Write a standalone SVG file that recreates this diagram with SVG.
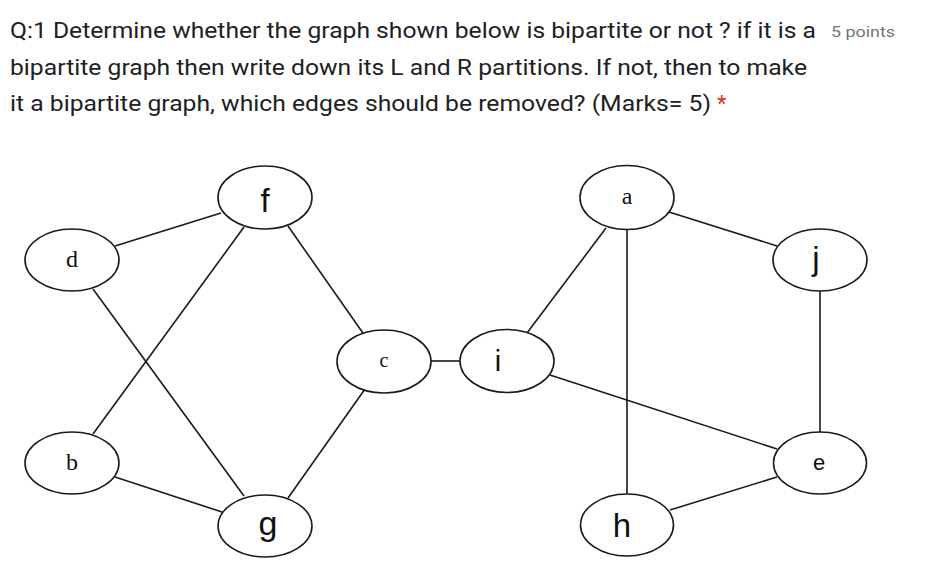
<svg xmlns="http://www.w3.org/2000/svg" width="927" height="572" viewBox="0 0 927 572">
<style>
.q{font-family:Roboto,"Open Sans","Liberation Sans",sans-serif;font-size:22px;fill:#202124}
.pts{font-family:Roboto,"Liberation Sans",sans-serif;font-size:15px;fill:#70757a}
.star{font-family:Roboto,"Liberation Sans",sans-serif;font-size:22px;fill:#d93025}
.n ellipse{fill:#fff;stroke:#1a1a1a;stroke-width:1.6}
.s{font-family:"Liberation Serif","Times New Roman",serif;fill:#111;text-anchor:middle}
.a{font-family:"Liberation Sans",Arial,sans-serif;fill:#111;text-anchor:middle}
#edges line{stroke:#1a1a1a;stroke-width:1.6}
</style>
<rect width="927" height="572" fill="#fff"/>
<text class="q" x="10" y="38" textLength="806" lengthAdjust="spacingAndGlyphs">Q:1 Determine whether the graph shown below is bipartite or not ? if it is a</text>
<text class="pts" x="831" y="37" textLength="64" lengthAdjust="spacingAndGlyphs">5 points</text>
<text class="q" x="10" y="75" textLength="797" lengthAdjust="spacingAndGlyphs">bipartite graph then write down its L and R partitions. If not, then to make</text>
<text class="q" x="10" y="111" textLength="701" lengthAdjust="spacingAndGlyphs">it a bipartite graph, which edges should be removed? (Marks= 5)</text>
<text class="star" x="717" y="111">*</text>
<g id="edges">
<line x1="115" y1="246" x2="221" y2="213"/>
<line x1="244" y1="227" x2="93" y2="434"/>
<line x1="288" y1="226" x2="365" y2="336"/>
<line x1="93" y1="289" x2="244" y2="496"/>
<line x1="115" y1="477" x2="222" y2="512"/>
<line x1="365" y1="389" x2="288" y2="498"/>
<line x1="431" y1="361" x2="460" y2="361"/>
<line x1="527" y1="333" x2="606" y2="228"/>
<line x1="627" y1="230" x2="627" y2="494"/>
<line x1="669" y1="212" x2="777" y2="246"/>
<line x1="820" y1="291" x2="820" y2="432"/>
<line x1="550" y1="375" x2="777" y2="449"/>
<line x1="670" y1="510" x2="777" y2="477"/>
</g>
<g id="node-f" class="n"><ellipse cx="265" cy="197.5" rx="47" ry="31.5"/><text class="a" x="265" y="212" font-size="33">f</text></g>
<g id="node-d" class="n"><ellipse cx="72" cy="260" rx="47" ry="31"/><text class="s" x="72" y="267" font-size="24">d</text></g>
<g id="node-c" class="n"><ellipse cx="384" cy="361.5" rx="47" ry="31.5"/><text class="s" x="384" y="367" font-size="20">c</text></g>
<g id="node-i" class="n"><ellipse cx="507" cy="361" rx="47" ry="31.5"/><text class="a" x="498" y="371" font-size="29">i</text></g>
<g id="node-a" class="n"><ellipse cx="627" cy="197.5" rx="47" ry="32"/><text class="s" x="627" y="204" font-size="24">a</text></g>
<g id="node-j" class="n"><ellipse cx="820" cy="260" rx="47" ry="31"/><text class="a" x="816" y="270" font-size="33">j</text></g>
<g id="node-b" class="n"><ellipse cx="72" cy="463" rx="47" ry="31"/><text class="s" x="72" y="470" font-size="24">b</text></g>
<g id="node-g" class="n"><ellipse cx="265" cy="526" rx="47" ry="31"/><text class="a" x="268" y="535" font-size="34">g</text></g>
<g id="node-e" class="n"><ellipse cx="820" cy="463" rx="46.5" ry="31"/><text class="a" x="819" y="470" font-size="22">e</text></g>
<g id="node-h" class="n"><ellipse cx="627" cy="525" rx="46.5" ry="31"/><text class="a" x="622" y="537" font-size="33">h</text></g>
</svg>
